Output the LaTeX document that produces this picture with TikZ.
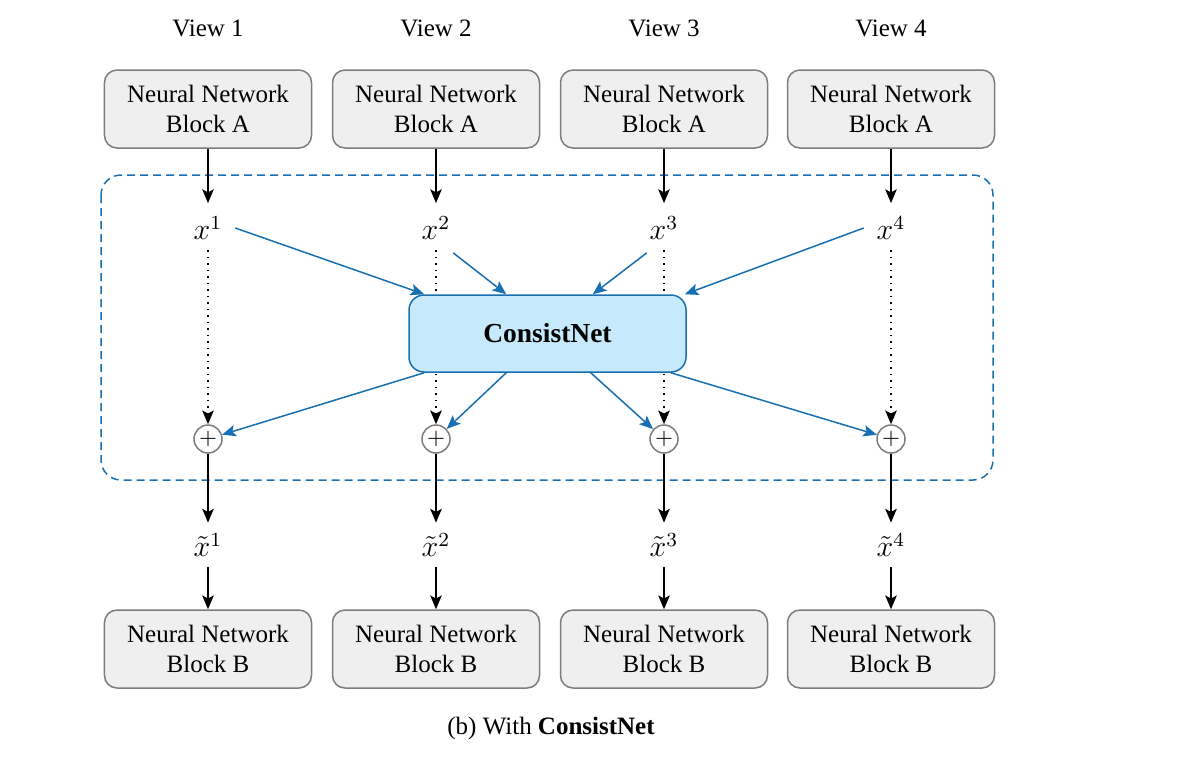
\documentclass[tikz,border=0pt]{standalone}
\usepackage{fontspec}
\setmainfont{Liberation Serif}
\usetikzlibrary{arrows.meta}
\definecolor{cnblue}{RGB}{24,112,178}
\definecolor{cnfill}{RGB}{198,234,251}
\definecolor{blockfill}{RGB}{239,239,239}
\definecolor{blockline}{RGB}{125,125,125}

\begin{document}
\begin{tikzpicture}[x=0.4pt,y=-0.4pt]
\tikzstyle{block}=[draw=blockline, fill=blockfill, rounded corners=5pt, align=center, minimum width=82.8pt, minimum height=31.2pt, line width=0.6pt]
\tikzstyle{cnet}=[draw=cnblue, fill=cnfill, rounded corners=6pt, minimum width=110.8pt, minimum height=30.8pt, line width=0.6pt, font=\fontsize{11}{13}\selectfont\bfseries]
\tikzstyle{sumnode}=[circle, draw=blockline, fill=white, minimum size=11.2pt, inner sep=0pt, line width=0.6pt, font=\small]
\tikzstyle{feat}=[font=\large, inner sep=2pt]
\tikzstyle{arr}=[-{Stealth[length=5.5pt,width=4.6pt,inset=1.2pt]}, line width=0.6pt]
\tikzstyle{bluearr}=[arr, draw=cnblue, fill=cnblue]
\tikzstyle{dotarr}=[arr, dotted]
\tikzstyle{dashframe}=[draw=cnblue, dash pattern=on 3.2pt off 2pt, rounded corners=8pt, line width=0.6pt]
\useasboundingbox (0,0) rectangle (1194,756);

% views
\node (view1) at (208,28) {View 1};
\node (view2) at (436,28) {View 2};
\node (view3) at (664,28) {View 3};
\node (view4) at (891,28) {View 4};

% blocks A
\node [block] (blockA1) at (208,109) {Neural Network\\Block A};
\node [block] (blockA2) at (436,109) {Neural Network\\Block A};
\node [block] (blockA3) at (664,109) {Neural Network\\Block A};
\node [block] (blockA4) at (891,109) {Neural Network\\Block A};

% features
\draw [dashframe] (101,175) rectangle (993,480);
\node [feat] (x1) at (208,228) {$x^1$};
\node [feat] (x2) at (436,228) {$x^2$};
\node [feat] (x3) at (664,228) {$x^3$};
\node [feat] (x4) at (891,228) {$x^4$};
\draw [arr] (blockA1) -- ([yshift=3pt]x1.north);
\draw [arr] (blockA2) -- ([yshift=3pt]x2.north);
\draw [arr] (blockA3) -- ([yshift=3pt]x3.north);
\draw [arr] (blockA4) -- ([yshift=3pt]x4.north);

% sums
\node [sumnode] (sum1) at (208,439) {$+$};
\node [sumnode] (sum2) at (436,439) {$+$};
\node [sumnode] (sum3) at (664,439) {$+$};
\node [sumnode] (sum4) at (891,439) {$+$};
\draw [dotarr] ([yshift=-2pt]x1.south) -- (sum1);
\draw [dotarr] ([yshift=-2pt]x2.south) -- (sum2);
\draw [dotarr] ([yshift=-2pt]x3.south) -- (sum3);
\draw [dotarr] ([yshift=-2pt]x4.south) -- (sum4);

% consistnet
\node [cnet] (consist) at (547.5,333.5) {ConsistNet};
\draw [bluearr] ([xshift=3pt]x1.east) -- ([xshift=6.4pt]consist.north west);
\draw [bluearr] ([xshift=-1pt,yshift=-3pt]x2.south east) -- ([xshift=39.2pt]consist.north west);
\draw [bluearr] ([xshift=1pt,yshift=-3pt]x3.south west) -- ([xshift=-37.6pt]consist.north east);
\draw [bluearr] ([xshift=-3pt]x4.west) -- ([xshift=-0.8pt]consist.north east);
\draw [bluearr] ([xshift=6.4pt]consist.south west) -- (sum1);
\draw [bluearr] ([xshift=39.2pt]consist.south west) -- (sum2);
\draw [bluearr] ([xshift=-38.4pt]consist.south east) -- (sum3);
\draw [bluearr] ([xshift=-6.4pt]consist.south east) -- (sum4);

% outputs
\node [feat] (xt1) at (208,545) {$\tilde{x}^1$};
\node [feat] (xt2) at (436,545) {$\tilde{x}^2$};
\node [feat] (xt3) at (664,545) {$\tilde{x}^3$};
\node [feat] (xt4) at (891,545) {$\tilde{x}^4$};
\draw [arr] (sum1) -- ([yshift=2pt]xt1.north);
\draw [arr] (sum2) -- ([yshift=2pt]xt2.north);
\draw [arr] (sum3) -- ([yshift=2pt]xt3.north);
\draw [arr] (sum4) -- ([yshift=2pt]xt4.north);

% blocks B
\node [block] (blockB1) at (208,649) {Neural Network\\Block B};
\node [block] (blockB2) at (436,649) {Neural Network\\Block B};
\node [block] (blockB3) at (664,649) {Neural Network\\Block B};
\node [block] (blockB4) at (891,649) {Neural Network\\Block B};
\draw [arr] ([yshift=-2pt]xt1.south) -- (blockB1);
\draw [arr] ([yshift=-2pt]xt2.south) -- (blockB2);
\draw [arr] ([yshift=-2pt]xt3.south) -- (blockB3);
\draw [arr] ([yshift=-2pt]xt4.south) -- (blockB4);

\node (caption) at (551,728) {(b) With \textbf{ConsistNet}};
\end{tikzpicture}
\end{document}
